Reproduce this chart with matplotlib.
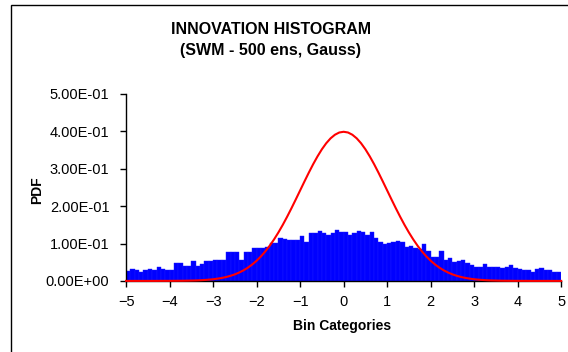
import numpy as np
import matplotlib
matplotlib.use("Agg")
import matplotlib.pyplot as plt
from matplotlib.patches import Rectangle
from matplotlib.ticker import FuncFormatter

plt.rcParams["font.family"] = ["Liberation Sans", "DejaVu Sans"]

# histogram of innovations, 100 bins of width 0.1 from -5 to 5
bin_start = -5.0
bin_width = 0.1
pdf_hist = [
    0.027, 0.031, 0.030, 0.025, 0.029, 0.031, 0.030, 0.036, 0.031, 0.030,
    0.030, 0.047, 0.047, 0.040, 0.040, 0.054, 0.041, 0.046, 0.052, 0.052,
    0.055, 0.055, 0.055, 0.078, 0.078, 0.078, 0.055, 0.076, 0.077, 0.087,
    0.087, 0.087, 0.092, 0.101, 0.101, 0.114, 0.112, 0.110, 0.110, 0.110,
    0.121, 0.103, 0.128, 0.128, 0.134, 0.128, 0.122, 0.128, 0.137, 0.130,
    0.132, 0.123, 0.128, 0.134, 0.132, 0.123, 0.130, 0.114, 0.103, 0.099,
    0.101, 0.103, 0.106, 0.104, 0.092, 0.094, 0.088, 0.085, 0.098, 0.079,
    0.065, 0.065, 0.081, 0.056, 0.061, 0.050, 0.052, 0.055, 0.047, 0.043,
    0.038, 0.038, 0.045, 0.038, 0.038, 0.037, 0.034, 0.038, 0.043, 0.034,
    0.032, 0.028, 0.028, 0.025, 0.032, 0.034, 0.029, 0.028, 0.025, 0.025,
]

# reference gaussian, values at 0.0, 0.1, ..., 5.0 (mirrored for negatives)
gauss_half = [
    0.3989, 0.3970, 0.3910, 0.3814, 0.3683, 0.3521, 0.3332, 0.3123, 0.2897, 0.2661,
    0.2420, 0.2179, 0.1942, 0.1714, 0.1497, 0.1295, 0.1109, 0.0940, 0.0790, 0.0656,
    0.0540, 0.0440, 0.0355, 0.0283, 0.0224, 0.0175, 0.0136, 0.0104, 0.0079, 0.0060,
    0.0044, 0.0033, 0.0024, 0.0017, 0.0012, 0.0009, 0.0006, 0.0004, 0.0003, 0.0002,
    0.0001, 0.0001, 0.0001, 0.0000, 0.0000, 0.0000, 0.0000, 0.0000, 0.0000, 0.0000,
    0.0000,
]
gauss = gauss_half[::-1] + gauss_half[1:]

x_ticks = [-5, -4, -3, -2, -1, 0, 1, 2, 3, 4, 5]
y_ticks = [0.0, 0.1, 0.2, 0.3, 0.4, 0.5]

fig = plt.figure(figsize=(5.68, 3.52), dpi=100)
ax = fig.add_axes([0.222, 0.202, 0.766, 0.531])

centers = bin_start + bin_width * (np.arange(len(pdf_hist)) + 0.5)
ax.bar(centers, pdf_hist, width=bin_width, color="#0000FF",
       edgecolor="#1a1aff", linewidth=0.3, zorder=2)
gx = np.linspace(x_ticks[0], x_ticks[-1], len(gauss))
ax.plot(gx, gauss, color="#FF0000", linewidth=1.5, zorder=3, clip_on=False)

ax.set_xlim(-5, 5)
ax.set_ylim(0, 0.5)
ax.set_xticks(x_ticks)
ax.set_yticks(y_ticks)
ax.yaxis.set_major_formatter(FuncFormatter(lambda v, _: f"{v:.2E}"))
ax.tick_params(direction="out", length=4, width=1, labelsize=10.5, colors="black")
ax.tick_params(axis="y", pad=8)
ax.tick_params(axis="x", pad=6)
for s in ["top", "right"]:
    ax.spines[s].set_visible(False)
for s in ["left", "bottom"]:
    ax.spines[s].set_linewidth(1)

fig.text(0.477, 0.886, "INNOVATION HISTOGRAM\n(SWM - 500 ens, Gauss)",
         ha="center", va="center", fontsize=11.5, fontweight="bold",
         linespacing=1.5)
fig.text(0.603, 0.074, "Bin Categories", ha="center", va="center",
         fontsize=10, fontweight="bold")
fig.text(0.065, 0.46, "PDF", ha="center", va="center", rotation=90,
         fontsize=10, fontweight="bold")

fig.patches.append(Rectangle((11 / 568, -0.05), 1.1, 1.036, fill=False,
                             edgecolor="black", linewidth=1,
                             transform=fig.transFigure, figure=fig))

fig.savefig("out.png", dpi=100)
